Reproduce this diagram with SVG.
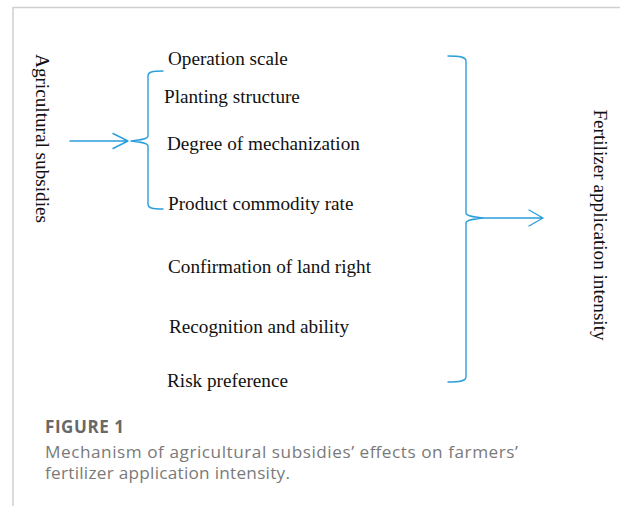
<svg xmlns="http://www.w3.org/2000/svg" width="620" height="506" viewBox="0 0 620 506">
  <style>
    .lbl { font-family: "Liberation Serif", "Times New Roman", serif; font-size: 19.2px; fill: #111; }
    .link { fill: none; stroke: #2b9fdc; stroke-width: 1.4; stroke-linecap: round; stroke-linejoin: round; }
    .frame { stroke: #cfcfcf; stroke-width: 1.5; fill: none; }
    .cap-title { font-family: "Open Sans", Lato, sans-serif; font-weight: bold; font-size: 17px; fill: #686868; }
    .cap-text { font-family: "Open Sans", Lato, sans-serif; font-size: 17.2px; fill: #7a7a7a; }
  </style>
  <rect width="620" height="506" fill="#ffffff"/>
  <!-- page frame -->
  <path class="frame" d="M620,7.5 H13 V506"/>

  <!-- source node -->
  <g id="agricultural-subsidies">
    <text class="lbl" text-anchor="middle" transform="translate(36,138.5) rotate(90)">Agricultural subsidies</text>
  </g>

  <!-- mediating factors -->
  <g id="operation-scale"><text class="lbl" x="168" y="65">Operation scale</text></g>
  <g id="planting-structure"><text class="lbl" x="164" y="103">Planting structure</text></g>
  <g id="degree-of-mechanization"><text class="lbl" x="167" y="150">Degree of mechanization</text></g>
  <g id="product-commodity-rate"><text class="lbl" x="168" y="210">Product commodity rate</text></g>
  <g id="confirmation-of-land-right"><text class="lbl" x="168" y="273">Confirmation of land right</text></g>
  <g id="recognition-and-ability"><text class="lbl" x="169" y="333">Recognition and ability</text></g>
  <g id="risk-preference"><text class="lbl" x="167" y="387">Risk preference</text></g>

  <!-- outcome node -->
  <g id="fertilizer-application-intensity">
    <text class="lbl" text-anchor="middle" transform="translate(594,225) rotate(90)">Fertilizer application intensity</text>
  </g>

  <!-- connectors: arrows and braces -->
  <g id="connectors">
    <path class="link" d="M70,141 H128 M113,133.5 L128,141 L113,148.5"/>
    <path class="link" d="M163,71 C152,71 148,72 148,76 V136 C148,139 140,140 131,141 C140,142 148,143 148,146 V204 C148,208 152,209 163,209"/>
    <path class="link" d="M448,56 C460,56 466,57 466,61 V213 C466,216 474,217 483,218 C474,219 466,220 466,223 V377 C466,381 460,382 448,382"/>
    <path class="link" d="M483,218 H543 M529,210 L543,218 L529,226"/>
  </g>

  <!-- caption -->
  <text class="cap-title" x="45" y="433" textLength="79" lengthAdjust="spacing">FIGURE 1</text>
  <text class="cap-text" x="45" y="458" textLength="473" lengthAdjust="spacing">Mechanism of agricultural subsidies’ effects on farmers’</text>
  <text class="cap-text" x="45" y="479" textLength="245" lengthAdjust="spacing">fertilizer application intensity.</text>
</svg>
